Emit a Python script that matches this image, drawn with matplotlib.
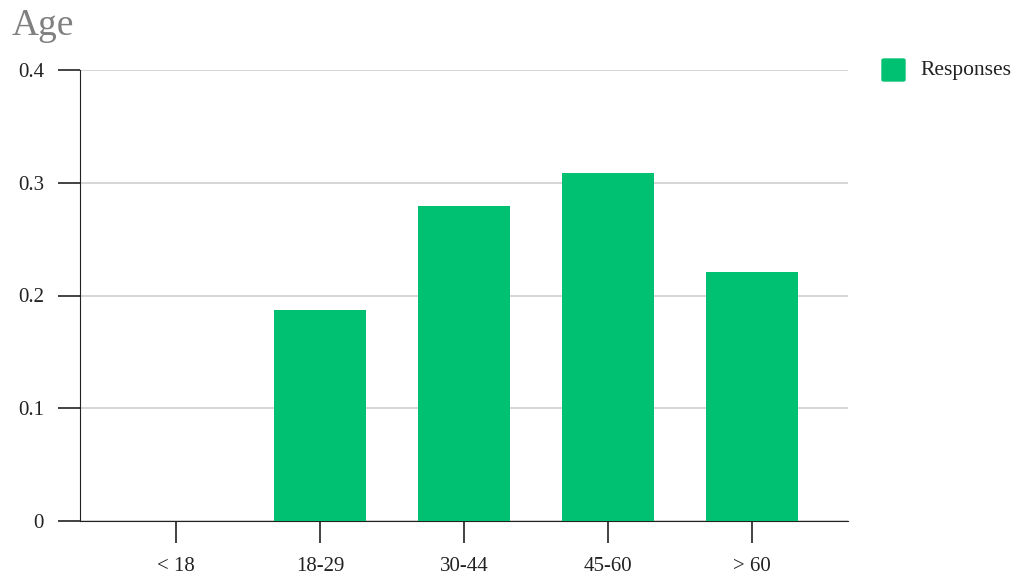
import matplotlib.pyplot as plt
from matplotlib.patches import FancyBboxPatch

# Données
categories = ['< 18', '18-29', '30-44', '45-60', '> 60']
responses = [0.0, 0.187, 0.279, 0.309, 0.221]
yticks = [0, 0.1, 0.2, 0.3, 0.4]
ytick_labels = ['0', '0.1', '0.2', '0.3', '0.4']

green = '#00c071'
plt.rcParams['font.family'] = ['Liberation Serif', 'DejaVu Serif']

fig = plt.figure(figsize=(10.24, 5.87), dpi=100)
ax = fig.add_axes([80 / 1024, 66 / 587, 768 / 1024, 451 / 587])

x = list(range(len(categories)))
ax.bar(x, responses, width=0.64, color=green, zorder=3)

ax.set_xlim(-0.667, 4.667)
ax.set_ylim(0, 0.4)
ax.set_xticks(x)
ax.set_xticklabels(categories)
ax.set_yticks(yticks)
ax.set_yticklabels(ytick_labels)

ax.grid(axis='y', color='#d0d0d0', linewidth=1.2, zorder=0)
for s in ['top', 'right']:
    ax.spines[s].set_visible(False)
ax.spines['left'].set_color('#222222')
ax.spines['bottom'].set_color('#222222')
ax.tick_params(axis='both', length=16, width=1.2, color='#222222',
               labelsize=15, labelcolor='#222222')
ax.tick_params(axis='y', pad=10)
ax.tick_params(axis='x', pad=10)

fig.text(12 / 1024, 1 - 35 / 587, 'Age', fontsize=27, color='#808080')

# Légende
fig.patches.append(FancyBboxPatch((882 / 1024, 1 - 81 / 587), 23 / 1024, 22 / 587,
                                  boxstyle='round,pad=0,rounding_size=0.002',
                                  transform=fig.transFigure, color=green,
                                  figure=fig))
fig.text(920 / 1024, 1 - 70 / 587, 'Responses', fontsize=15.5, color='#222222',
         va='center')

fig.savefig('out.png', dpi=100)
